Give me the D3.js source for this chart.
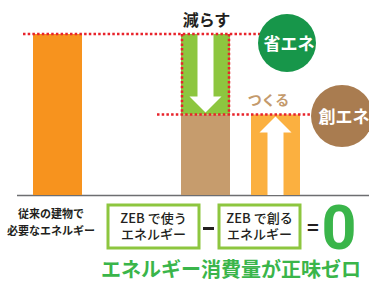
<!DOCTYPE html>
<html>
<head>
<meta charset="utf-8">
<script src="https://cdn.jsdelivr.net/npm/d3@7"></script>
<style>
    body { margin: 0; background: #fff; }
    svg { display: block; font-family: "Noto Sans CJK JP", "Noto Sans", sans-serif; }
</style>
</head>
<body>
<svg id="chart" width="369" height="284"></svg>
<script>
// bars: conventional building, ZEB (used + saved), created energy
const categories = ["従来", "ZEB", "創エネ"];
const usedValues = [100, 50, 50];     // bottom part of each bar
const savedValues = [0, 50, 0];       // green part stacked on top (省エネ)
const barColors = ["#f7931e", "#c69c6d", "#fbb040"];

const leftLabel = ["従来の建物で", "必要なエネルギー"];
const boxLabels = [["ZEB で使う", "エネルギー"], ["ZEB で創る", "エネルギー"]];
const title = "エネルギー消費量が正味ゼロ";

const ctx = {
    BASE_Y: 195,
    TOP_Y: 34,
    BAR_W: 49,
    RED: "#e8232b",
    GREEN: "#3ab54a",
    LIME: "#8dc63f",
};

const svg = d3.select("#chart");

const y = d3.scaleLinear().domain([0, 100]).range([ctx.BASE_Y, ctx.TOP_Y]);
const x = d3.scaleOrdinal().domain(categories).range([33, 181, 251]);

// baseline
svg.append("line")
    .attr("x1", 17).attr("x2", 369)
    .attr("y1", ctx.BASE_Y + 0.5).attr("y2", ctx.BASE_Y + 0.5)
    .attr("stroke", "#6d6e71").attr("stroke-width", 1.5);

// bottom bars
svg.selectAll(".bar")
    .data(categories)
    .enter()
    .append("rect")
    .attr("class", "bar")
    .attr("x", d => x(d))
    .attr("y", (d, i) => y(usedValues[i]))
    .attr("width", ctx.BAR_W)
    .attr("height", (d, i) => ctx.BASE_Y - y(usedValues[i]))
    .attr("fill", (d, i) => barColors[i]);

// saved part (green)
svg.selectAll(".saved")
    .data(categories.filter((d, i) => savedValues[i] > 0))
    .enter()
    .append("rect")
    .attr("class", "saved")
    .attr("x", d => x(d))
    .attr("y", d => { const i = categories.indexOf(d); return y(usedValues[i] + savedValues[i]); })
    .attr("width", ctx.BAR_W)
    .attr("height", d => { const i = categories.indexOf(d); return y(usedValues[i]) - y(usedValues[i] + savedValues[i]); })
    .attr("fill", ctx.LIME);

// arrows
const zebC = x("ZEB") + ctx.BAR_W / 2;
const zebTop = y(usedValues[1] + savedValues[1]);
const zebMid = y(usedValues[1]);
svg.append("path")
    .attr("d", `M${zebC - 8},${zebTop} L${zebC + 8},${zebTop} L${zebC + 8},${zebMid - 18}
        L${zebC + 16},${zebMid - 18} L${zebC},${zebMid - 2} L${zebC - 16},${zebMid - 18}
        L${zebC - 8},${zebMid - 18} Z`)
    .attr("fill", "#fff");

const creC = x("創エネ") + ctx.BAR_W / 2;
const creTop = y(usedValues[2]);
svg.append("path")
    .attr("d", `M${creC - 8},${ctx.BASE_Y} L${creC - 8},${creTop + 18} L${creC - 16},${creTop + 18}
        L${creC},${creTop + 2} L${creC + 16},${creTop + 18} L${creC + 8},${creTop + 18}
        L${creC + 8},${ctx.BASE_Y} Z`)
    .attr("fill", "#fff");

// red dotted guide lines
const dotted = svg.append("g")
    .attr("stroke", ctx.RED)
    .attr("stroke-width", 2.5)
    .attr("stroke-dasharray", "2.5,2.2")
    .attr("fill", "none");
dotted.append("line").attr("x1", 23).attr("x2", 262).attr("y1", zebTop).attr("y2", zebTop);
dotted.append("line").attr("x1", 157).attr("x2", 312).attr("y1", zebMid).attr("y2", zebMid);
dotted.append("line").attr("x1", x("ZEB") + 1).attr("x2", x("ZEB") + 1).attr("y1", zebTop).attr("y2", zebMid);
dotted.append("line").attr("x1", x("ZEB") + ctx.BAR_W - 1).attr("x2", x("ZEB") + ctx.BAR_W - 1).attr("y1", zebTop).attr("y2", zebMid);

// circles
svg.append("circle").attr("cx", 287).attr("cy", 43).attr("r", 29).attr("fill", "#17964a");
svg.append("text").attr("x", 289).attr("y", 50).attr("text-anchor", "middle")
    .attr("font-size", 17).attr("font-weight", "bold").attr("fill", "#fff").text("省エネ");

svg.append("circle").attr("cx", 342).attr("cy", 116).attr("r", 31).attr("fill", "#a97c50");
svg.append("text").attr("x", 344).attr("y", 123).attr("text-anchor", "middle")
    .attr("font-size", 17).attr("font-weight", "bold").attr("fill", "#fff").text("創エネ");

// annotations
svg.append("text").attr("x", zebC + 1).attr("y", 26).attr("text-anchor", "middle")
    .attr("font-size", 16).attr("font-weight", "bold").attr("fill", "#231f20").text("減らす");
svg.append("text").attr("x", creC - 7).attr("y", 105).attr("text-anchor", "middle")
    .attr("font-size", 14).attr("font-weight", "bold").attr("fill", "#c49a6c").text("つくる");

// left label
svg.append("text")
    .attr("x", 51).attr("text-anchor", "middle")
    .attr("font-size", 11).attr("font-weight", "bold").attr("fill", "#231f20")
    .selectAll("tspan")
    .data(leftLabel)
    .enter()
    .append("tspan")
    .attr("x", 51)
    .attr("y", (d, i) => 218 + i * 17)
    .text(d => d);

// formula boxes
const boxes = [{ x: 108, w: 91 }, { x: 219, w: 81 }];
boxes.forEach((b, i) => {
    svg.append("rect")
        .attr("x", b.x).attr("y", 205).attr("width", b.w).attr("height", 43)
        .attr("fill", "#fff").attr("stroke", ctx.LIME).attr("stroke-width", 3);
    svg.append("text")
        .attr("text-anchor", "middle")
        .attr("font-size", 13).attr("font-weight", 500).attr("fill", "#231f20")
        .selectAll("tspan")
        .data(boxLabels[i])
        .enter()
        .append("tspan")
        .attr("x", b.x + b.w / 2)
        .attr("y", (d, j) => 222.5 + j * 16)
        .text(d => d);
});

// minus sign and equals
svg.append("rect").attr("x", 203).attr("y", 227).attr("width", 11).attr("height", 3).attr("fill", "#231f20");
svg.append("text").attr("x", 313).attr("y", 235).attr("text-anchor", "middle")
    .attr("font-size", 20).attr("font-weight", "bold").attr("fill", "#231f20").text("=");

// zero
svg.append("text").attr("x", 339).attr("y", 249).attr("text-anchor", "middle")
    .attr("font-family", "Roboto, 'Noto Sans', sans-serif")
    .attr("font-size", 61).attr("font-weight", "bold").attr("fill", ctx.GREEN).text("0");

// title
svg.append("text").attr("x", 231).attr("y", 277).attr("text-anchor", "middle")
    .attr("font-size", 20).attr("font-weight", "bold").attr("fill", ctx.GREEN).text(title);
</script>
</body>
</html>
